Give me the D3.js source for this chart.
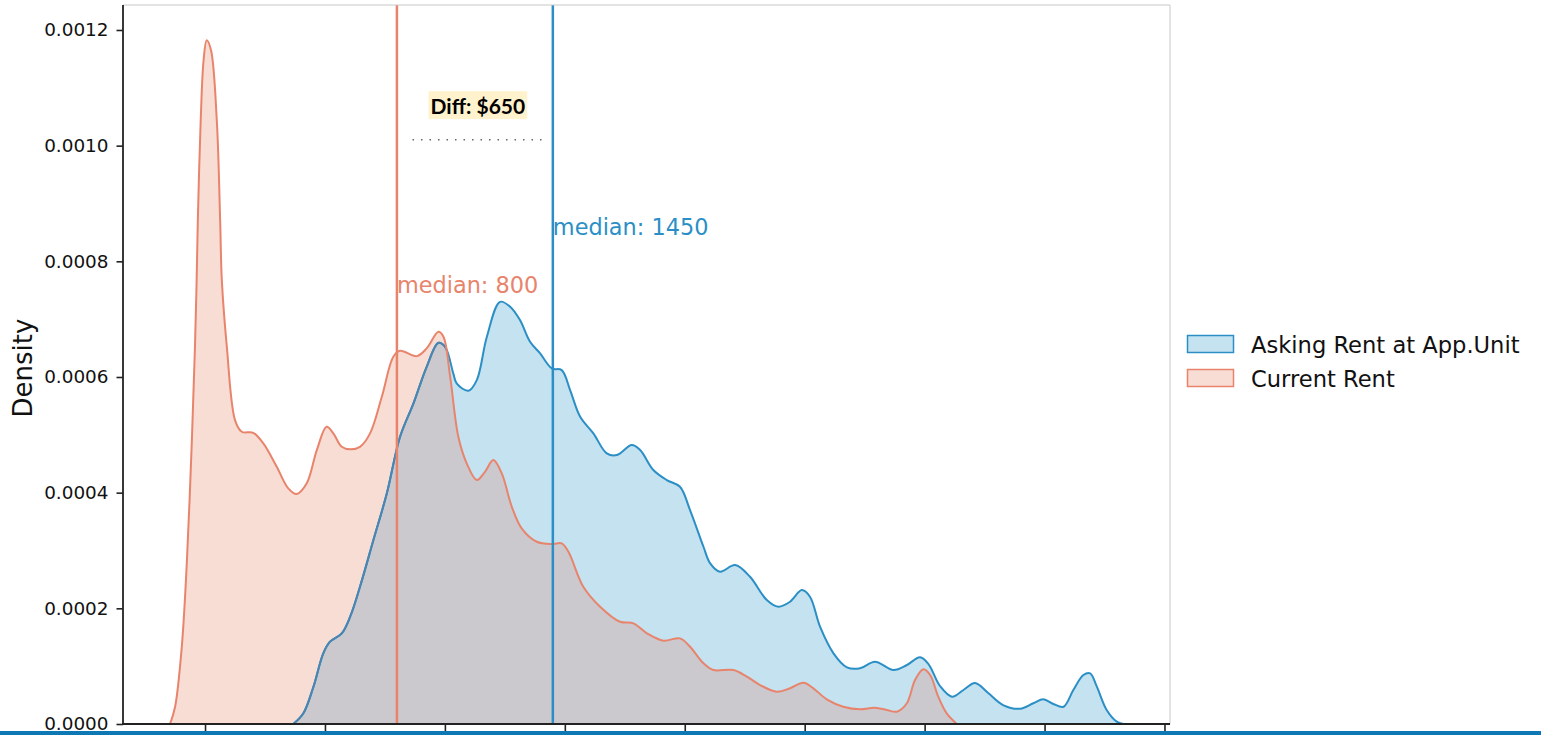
<!DOCTYPE html>
<html>
<head>
<meta charset="utf-8">
<script src="https://cdn.jsdelivr.net/npm/d3@7"></script>
<style>
  html, body { margin: 0; padding: 0; background: #fff; }
  svg { display: block; }
</style>
</head>
<body>
<svg id="chart" width="1541" height="735"></svg>
<script>
// Rent values ($) and kernel density estimates for the current rent
const currentRent = [-146, -125, -97, -76, -56, -42, -35, -30, -18, -6, 7, 25, 49, 63, 70, 91, 125, 153, 201, 243,
  299, 347, 382, 424, 466, 507, 535, 570, 605, 646, 688, 737, 785, 813, 883, 924, 973, 994, 1022, 1056,
  1091, 1133, 1167, 1202, 1237, 1279, 1320, 1383, 1446, 1487, 1515, 1577, 1647, 1730, 1786, 1842, 1911, 1980, 2022, 2078,
  2119, 2203, 2259, 2314, 2384, 2439, 2495, 2536, 2592, 2661, 2731, 2793, 2842, 2884, 2926, 2960, 2995, 3023, 3057, 3092, 3134];
const currentDensity = [0, 0.0000294, 0.0001331, 0.0002783, 0.0004788, 0.0006517, 0.0007675, 0.0008712, 0.0010441, 0.0011478,
  0.0011824, 0.0011651, 0.0010441, 0.0008712, 0.0007675, 0.0006517, 0.0005255, 0.0005053, 0.0005035, 0.0004852,
  0.0004448, 0.0004074, 0.0003976, 0.0004161, 0.0004736, 0.0005139, 0.0005025, 0.0004793, 0.0004749, 0.0004793,
  0.0005025, 0.0005658, 0.0006349, 0.0006453, 0.0006361, 0.0006494, 0.0006781, 0.0006695, 0.0006003, 0.0004966,
  0.0004506, 0.0004218, 0.0004361, 0.0004564, 0.0004333, 0.0003756, 0.0003383, 0.0003151, 0.0003111, 0.0003124,
  0.0002978, 0.0002373, 0.0002028, 0.0001768, 0.0001741, 0.0001568, 0.0001440, 0.0001481, 0.0001336, 0.0001049,
  0.0000933, 0.0000933, 0.0000818, 0.0000674, 0.0000558, 0.0000617, 0.0000714, 0.0000617, 0.0000427, 0.0000299,
  0.0000254, 0.0000282, 0.0000242, 0.0000213, 0.0000358, 0.0000761, 0.0000946, 0.0000847, 0.0000472, 0.0000185, 0];

// Rent values ($) and kernel density estimates for the asking rent at the applied unit
const askingRent = [368, 410, 452, 493, 521, 570, 605, 646, 702, 758, 813, 869, 924, 973, 1001, 1035, 1049, 1098, 1133, 1175,
  1230, 1272, 1313, 1355, 1397, 1446, 1487, 1522, 1564, 1619, 1675, 1717, 1779, 1814, 1869, 1925, 1980, 2022, 2078, 2106,
  2147, 2210, 2272, 2342, 2390, 2439, 2488, 2522, 2564, 2620, 2676, 2731, 2793, 2870, 2926, 2981, 3016, 3064, 3114, 3162,
  3210, 3265, 3327, 3398, 3453, 3495, 3537, 3579, 3620, 3662, 3690, 3718, 3759, 3801, 3829];
const askingDensity = [0, 0.0000185, 0.0000645, 0.0001222, 0.0001423, 0.0001568, 0.0001855, 0.0002373, 0.0003181, 0.0003988,
  0.0004966, 0.0005544, 0.0006176, 0.0006591, 0.0006522, 0.0006062, 0.0005889, 0.0005762, 0.0005946, 0.0006695,
  0.0007300, 0.0007214, 0.0006984, 0.0006608, 0.0006408, 0.0006149, 0.0006119, 0.0005774, 0.0005312, 0.0005025,
  0.0004679, 0.0004650, 0.0004823, 0.0004736, 0.0004391, 0.0004218, 0.0004102, 0.0003699, 0.0003065, 0.0002778,
  0.0002633, 0.0002748, 0.0002546, 0.0002143, 0.0002028, 0.0002114, 0.0002316, 0.0002201, 0.0001682, 0.0001222,
  0.0000980, 0.0000963, 0.0001077, 0.0000933, 0.0001020, 0.0001153, 0.0001037, 0.0000657, 0.0000472, 0.0000588,
  0.0000709, 0.0000536, 0.0000328, 0.0000264, 0.0000358, 0.0000427, 0.0000346, 0.0000299, 0.0000588, 0.0000847,
  0.0000876, 0.0000645, 0.0000242, 0.0000040, 0];

const medians = [800, 1450];
const medianLabels = ["median: 800", "median: 1450"];
const medianLabelDensity = [0.000745, 0.000845];
const diffLabel = "Diff: $650";
const seriesNames = ["Asking Rent at App.Unit", "Current Rent"];
const xTicks = [0, 500, 1000, 1500, 2000, 2500, 3000, 3500, 4000];
const yTicks = [0, 0.0002, 0.0004, 0.0006, 0.0008, 0.0010, 0.0012];

const BLUE = "#2b8fc6", BLUE_FILL = "#c5e2f0", BLUE_DIM = "#4c85b0";
const ORANGE = "#e8846c", ORANGE_FILL = "#f8ddd5", OVERLAP = "#cbc9ce";

const svg = d3.select("#chart");
const plotLeft = 123, plotRight = 1170, plotTop = 5, plotBottom = 724;

const x = d3.scaleLinear().domain([-342, 4023]).range([plotLeft, plotRight]);
const y = d3.scaleLinear().domain([0, 0.0012432]).range([plotBottom, plotTop]);

const zip = (xs, ys) => xs.map((v, i) => [v, ys[i]]);
const asking = zip(askingRent, askingDensity);
const current = zip(currentRent, currentDensity);

const curve = d3.curveCatmullRom.alpha(0.5);
const area = d3.area().x(d => x(d[0])).y0(y(0)).y1(d => y(d[1])).curve(curve);
const line = d3.line().x(d => x(d[0])).y(d => y(d[1])).curve(curve);

const defs = svg.append("defs");
defs.append("clipPath").attr("id", "clip-asking").append("path").attr("d", area(asking));
defs.append("clipPath").attr("id", "clip-current").append("path").attr("d", area(current));
defs.append("clipPath").attr("id", "clip-plot").append("rect")
  .attr("x", plotLeft).attr("y", plotTop).attr("width", plotRight - plotLeft).attr("height", plotBottom - plotTop);

const plot = svg.append("g").attr("clip-path", "url(#clip-plot)");

// Filled densities and their overlap
plot.append("path").attr("d", area(asking)).attr("fill", BLUE_FILL);
plot.append("path").attr("d", area(current)).attr("fill", ORANGE_FILL);
plot.append("path").attr("d", area(current)).attr("fill", OVERLAP).attr("clip-path", "url(#clip-asking)");

// Outlines
plot.append("path").attr("d", line(asking)).attr("fill", "none").attr("stroke", BLUE).attr("stroke-width", 2);
plot.append("g").attr("clip-path", "url(#clip-current)")
  .append("path").attr("d", line(asking)).attr("fill", "none").attr("stroke", BLUE_DIM).attr("stroke-width", 2);
plot.append("path").attr("d", line(current)).attr("fill", "none").attr("stroke", ORANGE).attr("stroke-width", 2);

// Median markers
const medColors = [ORANGE, BLUE];
medians.forEach((m, i) => {
  svg.append("line")
    .attr("x1", x(m)).attr("x2", x(m)).attr("y1", plotTop).attr("y2", plotBottom)
    .attr("stroke", medColors[i]).attr("stroke-width", 2.5);
  svg.append("text")
    .attr("x", x(m)).attr("y", y(medianLabelDensity[i]))
    .attr("font-family", "DejaVu Sans").attr("font-size", 22.4)
    .attr("fill", medColors[i])
    .text(medianLabels[i]);
});

// Difference annotation
svg.append("line")
  .attr("x1", x(865)).attr("x2", x(1405))
  .attr("y1", y(0.00101)).attr("y2", y(0.00101))
  .attr("stroke", "#666").attr("stroke-width", 1.5)
  .attr("stroke-dasharray", "1.5,7");
const midX = x((medians[0] + medians[1]) / 2) + 3;
const diffG = svg.append("g");
const diffText = diffG.append("text")
  .attr("x", midX).attr("y", y(0.00107))
  .attr("text-anchor", "middle").attr("dominant-baseline", "central")
  .attr("font-family", "Lato, 'Open Sans', sans-serif").attr("font-weight", 700)
  .attr("font-size", 21).attr("fill", "#000")
  .text(diffLabel);
const bb = diffText.node().getBBox();
diffG.insert("rect", "text")
  .attr("x", bb.x - 2).attr("y", y(0.00107) - 14)
  .attr("width", bb.width + 4).attr("height", 28)
  .attr("fill", "#fff2cc");

// Axes
const xAxis = d3.axisBottom(x).tickValues(xTicks).tickFormat("").tickSize(7).tickSizeOuter(0);
const gx = svg.append("g").attr("transform", `translate(0,${plotBottom})`).call(xAxis);
gx.select(".domain").remove();
gx.selectAll(".tick line").attr("stroke", "#222").attr("stroke-width", 1.6);

const yAxis = d3.axisLeft(y).tickValues(yTicks).tickFormat(d3.format(".4f")).tickSize(6.5).tickPadding(8).tickSizeOuter(0);
const gy = svg.append("g").attr("transform", `translate(${plotLeft},0)`).call(yAxis);
gy.select(".domain").remove();
gy.selectAll(".tick line").attr("stroke", "#222").attr("stroke-width", 1.6);
gy.selectAll(".tick text").attr("font-family", "DejaVu Sans").attr("font-size", 18.4).attr("fill", "#111");

// Spines
svg.append("line").attr("x1", plotLeft).attr("x2", plotRight).attr("y1", plotTop).attr("y2", plotTop).attr("stroke", "#c8c8c8").attr("stroke-width", 1);
svg.append("line").attr("x1", plotRight).attr("x2", plotRight).attr("y1", plotTop).attr("y2", plotBottom).attr("stroke", "#c8c8c8").attr("stroke-width", 1);
svg.append("line").attr("x1", plotLeft).attr("x2", plotLeft).attr("y1", plotTop).attr("y2", plotBottom + 0.8).attr("stroke", "#222").attr("stroke-width", 1.8);
svg.append("line").attr("x1", plotLeft - 0.9).attr("x2", plotRight).attr("y1", plotBottom).attr("y2", plotBottom).attr("stroke", "#222").attr("stroke-width", 1.8);

// Y axis title
svg.append("text")
  .attr("transform", `translate(32,368) rotate(-90)`)
  .attr("text-anchor", "middle")
  .attr("font-family", "DejaVu Sans").attr("font-size", 26)
  .attr("fill", "#111")
  .text("Density");

// Legend
const legend = svg.append("g").attr("transform", "translate(1187,335)");
const legFill = [BLUE_FILL, ORANGE_FILL], legStroke = [BLUE, ORANGE];
seriesNames.forEach((name, i) => {
  const g = legend.append("g").attr("transform", `translate(0,${i * 34})`);
  g.append("rect").attr("x", 0.5).attr("y", 0.5).attr("width", 46).attr("height", 17)
    .attr("fill", legFill[i]).attr("stroke", legStroke[i]).attr("stroke-width", 1.5);
  g.append("text").attr("x", 64).attr("y", 18)
    .attr("font-family", "DejaVu Sans").attr("font-size", 22.6).attr("fill", "#111")
    .text(name);
});

// Blue rule along the bottom edge
svg.append("rect").attr("x", 0).attr("y", 731).attr("width", 1541).attr("height", 4).attr("fill", "#0e78b4");
</script>
</body>
</html>
